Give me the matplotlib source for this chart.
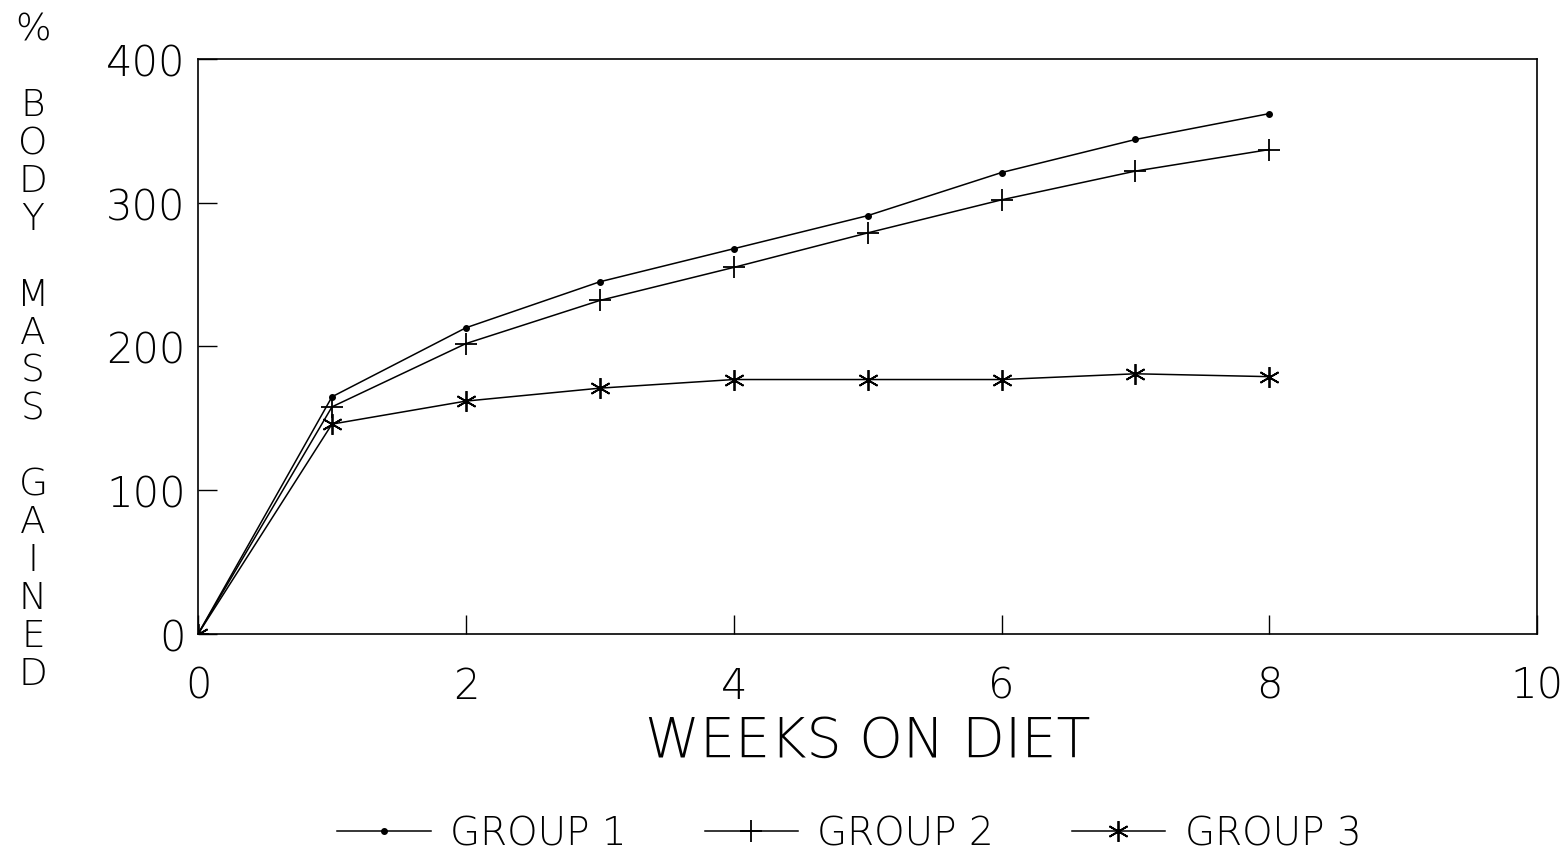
import matplotlib.pyplot as plt

weeks = [0, 1, 2, 3, 4, 5, 6, 7, 8]
group1 = [0, 165, 213, 245, 268, 291, 321, 344, 362]
group2 = [0, 158, 202, 232, 255, 279, 302, 322, 337]
group3 = [0, 146, 162, 171, 177, 177, 177, 181, 179]

x_ticks = [0, 2, 4, 6, 8, 10]
y_ticks = [0, 100, 200, 300, 400]
y_label = ["%", "", "B", "O", "D", "Y", "", "M", "A", "S", "S", "",
           "G", "A", "I", "N", "E", "D"]

plt.rcParams["font.family"] = ["DejaVu Sans"]
plt.rcParams["font.weight"] = "light"

fig = plt.figure(figsize=(15.67, 8.53), dpi=100)
ax = fig.add_axes([0.1264, 0.2556, 0.8546, 0.6741])

ax.plot(weeks, group1, color="black", linewidth=1.1,
        marker="o", markersize=4, label="GROUP 1")
ax.plot(weeks, group2, color="black", linewidth=1.1,
        marker="+", markersize=16, markeredgewidth=1.3, label="GROUP 2")
ax.plot(weeks, group3, color="black", linewidth=1.1,
        marker=(6, 2, 0), markersize=15, markeredgewidth=1.3, label="GROUP 3")

ax.set_xlim(0, 10)
ax.set_ylim(0, 400)
ax.set_xticks(x_ticks)
ax.set_yticks(y_ticks)
ax.tick_params(direction="in", length=14, width=1.0,
               labelsize=30, colors="black")
ax.tick_params(axis="x", pad=22)
ax.tick_params(axis="y", pad=9)
for s in ax.spines.values():
    s.set_linewidth(1.2)

ax.set_xlabel("WEEKS ON DIET", fontsize=40, labelpad=6, fontweight="light")

# stacked vertical y label
top_y = 1 - 30 / 853
step = 37.9 / 853
for i, ch in enumerate(y_label):
    fig.text(33 / 1567, top_y - i * step, ch, fontsize=27,
             ha="center", va="center")

fig.legend(loc="lower center", bbox_to_anchor=(0.542, -0.042), ncol=3,
           frameon=False, fontsize=28, handlelength=2.4,
           columnspacing=2.0, handletextpad=0.5)

plt.savefig("out.png", dpi=100)
